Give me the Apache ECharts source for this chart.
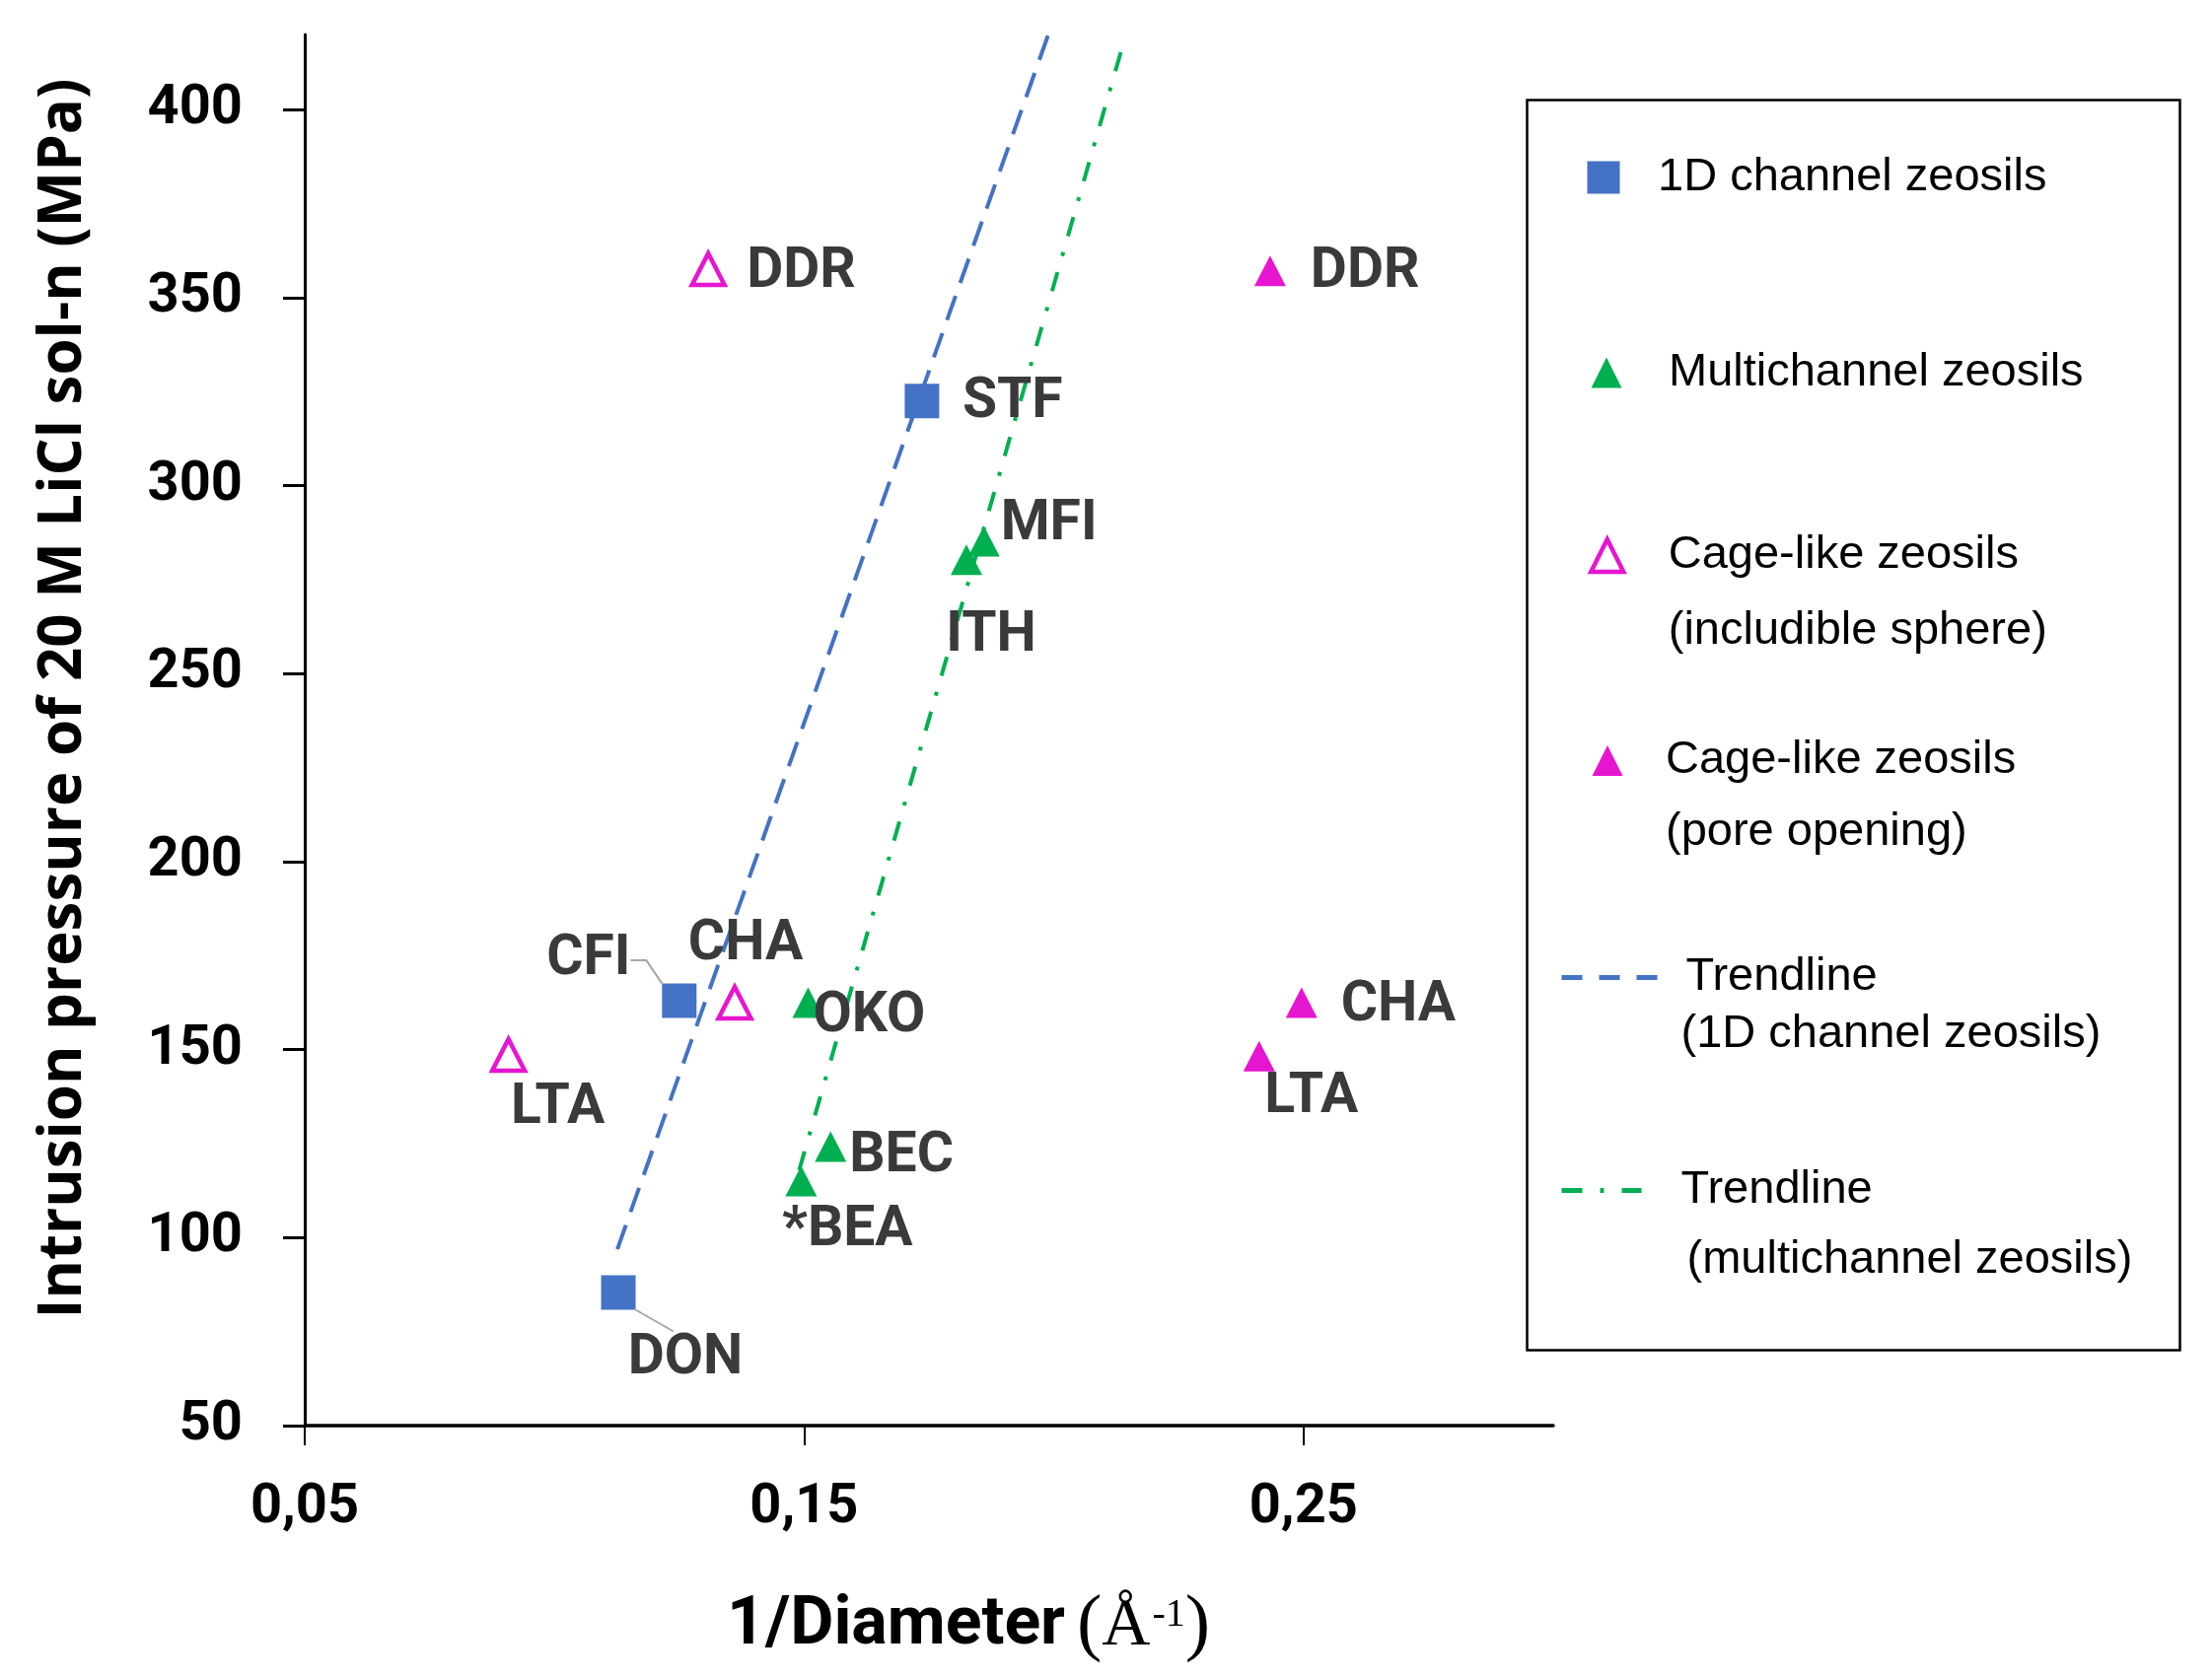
<!DOCTYPE html>
<html><head><meta charset="utf-8">
<script src="https://cdn.jsdelivr.net/npm/echarts@6/dist/echarts.min.js"></script>
<style>html,body{margin:0;padding:0;background:#fff}#c{width:2243px;height:1702px}</style>
</head><body><div id="c"></div>
<script>
// ---- data ----
const oneDNames = ['DON', 'CFI', 'STF'];
const oneDX = [0.1128, 0.1250, 0.1736];
const oneDY = [85.4, 163.0, 322.5];

const multiNames = ['*BEA', 'BEC', 'OKO', 'ITH', 'MFI'];
const multiX = [0.1494, 0.1553, 0.1508, 0.1825, 0.1860];
const multiY = [115.0, 124.2, 162.5, 280.3, 285.2];

const sphereNames = ['LTA', 'CHA', 'DDR'];
const sphereX = [0.0908, 0.1361, 0.1308];
const sphereY = [148.6, 162.5, 357.6];

const poreNames = ['LTA', 'CHA', 'DDR'];
const poreX = [0.2411, 0.2496, 0.2433];
const poreY = [148.3, 162.5, 357.1];

const trend1DX = [0.1126, 0.1989];
const trend1DY = [96.9, 420];
const trendMultiX = [0.1490, 0.2140];
const trendMultiY = [117.9, 418];

const xTicks = [0.05, 0.15, 0.25];
const yTicks = [50, 100, 150, 200, 250, 300, 350, 400];

const seriesNames = ['1D channel zeosils', 'Multichannel zeosils', 'Cage-like zeosils (includible sphere)',
  'Cage-like zeosils (pore opening)', 'Trendline (1D channel zeosils)', 'Trendline (multichannel zeosils)'];

// ---- label placement (style only): [align, dx, dy, leaderLength2, leftPad] ----
const placeOneD = [['center', 68, 68, 0, 24], ['center', -92, -41, 16], ['left', 41, 2]];
const placeMulti = [['center', 47, 51], ['left', 19, 11], ['left', 5, 15], ['center', 25, 78], ['left', 17, -16]];
const placeSphere = [['center', 50, 55], ['center', 11, -58], ['left', 39, 4]];
const placePore = [['center', 53, 43], ['left', 40, 4], ['left', 41, 2]];

const BLUE = '#4472C4', GREEN = '#00B050', MAG = '#E616D0', LABEL = '#3A3A3A';
const labelFont = { fontFamily: 'Roboto', fontWeight: 'bold', fontSize: 57, color: LABEL };

function pts(xs, ys, names, place) {
  return xs.map((x, i) => {
    const pl = place[i];
    const pad = pl[4] || 0;
    const d = {
      value: [x, ys[i]], name: names[i],
      label: { align: pl[0], offset: [pl[1] - pad / 2, pl[2]] }
    };
    if (pad) { d.label.padding = [0, 0, 0, pad]; d.label.backgroundColor = 'rgba(255,255,255,0)'; }
    if (pl[3] != null) d.labelLine = { show: true, length2: pl[3] };
    return d;
  });
}
function line(xs, ys) { return xs.map((x, i) => [x, ys[i]]); }

const scatterBase = {
  type: 'scatter',
  label: Object.assign({ show: true, position: 'inside', verticalAlign: 'middle', formatter: p => p.name }, labelFont),
  labelLine: { show: false, lineStyle: { color: '#A6A6A6', width: 2 } },
  emphasis: { disabled: true },
  z: 3
};

const legendText = { fontFamily: "'Liberation Sans', Arial, sans-serif", fontSize: 47, color: '#000' };
function rich(lh, pad1, pad2) {
  return {
    p: Object.assign({ lineHeight: lh }, legendText),
    a: Object.assign({ lineHeight: lh, padding: [0, 0, 0, pad1] }, legendText),
    b: Object.assign({ lineHeight: lh, padding: [0, 0, 0, pad2] }, legendText)
  };
}
const legendBase = { orient: 'vertical', padding: 0, selectedMode: false, symbolKeepAspect: true };
const SQUARE = 'path://M0,0L10,0L10,10L0,10Z';
const TRI = 'path://M5,0L10,10L0,10Z';

const chart = echarts.init(document.getElementById('c'), null, { renderer: 'canvas' });
chart.setOption({
  animation: false,
  backgroundColor: '#fff',
  grid: { left: 309, right: 668, top: 35, bottom: 256, containLabel: false },
  xAxis: {
    type: 'value', min: 0.05, max: 0.30,
    name: '{a|1/Diameter}{q|(}{s|Å}{u|-1}{p|)}',
    nameLocation: 'middle', nameGap: 166,
    nameTextStyle: {
      padding: [0, 0, 0, 80],
      rich: {
        a: { fontFamily: 'Roboto', fontWeight: 'bold', fontSize: 68, color: '#000' },
        q: { fontFamily: "'Liberation Serif', serif", fontSize: 76, color: '#000', padding: [0, 0, 0, 12] },
        p: { fontFamily: "'Liberation Serif', serif", fontSize: 76, color: '#000' },
        s: { fontFamily: "'Liberation Serif', serif", fontSize: 68, color: '#000' },
        u: { fontFamily: "'Liberation Serif', serif", fontSize: 40, color: '#000', verticalAlign: 'top', padding: [6, 0, 0, 2] }
      }
    },
    axisLine: { lineStyle: { color: '#000', width: 3.5 } },
    axisTick: { show: true, length: 20, lineStyle: { color: '#000', width: 2 }, customValues: xTicks },
    axisLabel: {
      customValues: xTicks, margin: 56,
      fontFamily: 'Roboto', fontWeight: 'bold', fontSize: 56, lineHeight: 56, color: '#000',
      formatter: v => v.toFixed(2).replace('.', ',')
    },
    splitLine: { show: false }
  },
  yAxis: {
    type: 'value', min: 50, max: 420,
    name: 'Intrusion pressure of 20 M LiCl sol-n (MPa)',
    nameLocation: 'middle', nameRotate: 90, nameGap: 214,
    nameTextStyle: { fontFamily: "'Open Sans', sans-serif", fontWeight: 'bold', fontSize: 60, lineHeight: 60, color: '#000', padding: [0, 0, 0, 64] },
    axisLine: { show: true, lineStyle: { color: '#000', width: 3 } },
    axisTick: { show: true, length: 22, lineStyle: { color: '#000', width: 3 }, customValues: yTicks },
    axisLabel: { customValues: yTicks, margin: 63, fontFamily: 'Roboto', fontWeight: 'bold', fontSize: 56, color: '#000' },
    splitLine: { show: false }
  },
  legend: [
    Object.assign({}, legendBase, {
      left: 1609.5, top: 155, itemWidth: 100, itemHeight: 33,
      data: [{ name: seriesNames[0], icon: SQUARE }],
      itemStyle: { opacity: 1 },
      textStyle: Object.assign({ lineHeight: 50 }, legendText)
    }),
    Object.assign({}, legendBase, {
      left: 1613.5, top: 353, itemWidth: 116, itemHeight: 31,
      data: [{ name: seriesNames[1], icon: TRI }],
      itemStyle: { opacity: 1 },
      textStyle: Object.assign({ lineHeight: 50 }, legendText)
    }),
    Object.assign({}, legendBase, {
      left: 1611, top: 463, itemWidth: 114, itemHeight: 33,
      data: [{ name: seriesNames[2], icon: TRI }],
      itemStyle: { opacity: 1, borderWidth: 4.5, borderColor: MAG, color: '#fff' },
      formatter: () => '{p| }\n{a|Cage-like zeosils}\n{b|(includible sphere)}',
      textStyle: Object.assign({ rich: rich(77, 0, 0) }, legendText)
    }),
    Object.assign({}, legendBase, {
      left: 1614.5, top: 675, itemWidth: 108, itemHeight: 31,
      data: [{ name: seriesNames[3], icon: TRI }],
      itemStyle: { opacity: 1 },
      formatter: () => '{p| }\n{a|Cage-like zeosils}\n{b|(pore opening)}',
      textStyle: Object.assign({ rich: rich(73, 0, 0) }, legendText)
    }),
    Object.assign({}, legendBase, {
      left: 1581, top: 910, itemWidth: 98, itemHeight: 10,
      data: [{ name: seriesNames[4] }],
      itemStyle: { opacity: 0 },
      lineStyle: { color: BLUE, width: 5, type: [21, 17] },
      formatter: () => '{p| }\n{a|Trendline}\n{b|(1D channel zeosils)}',
      textStyle: Object.assign({ rich: rich(58, 23, 18) }, legendText)
    }),
    Object.assign({}, legendBase, {
      left: 1581, top: 1113, itemWidth: 81, itemHeight: 10,
      data: [{ name: seriesNames[5] }],
      itemStyle: { opacity: 0 },
      lineStyle: { color: GREEN, width: 5, type: [21, 18, 4, 18] },
      formatter: () => '{p| }\n{a|Trendline}\n{b|(multichannel zeosils)}',
      textStyle: Object.assign({ rich: rich(71, 35, 41) }, legendText)
    })
  ],
  graphic: [{
    type: 'rect', left: 1546, top: 99, silent: true,
    shape: { width: 662, height: 1268 },
    style: { fill: 'none', stroke: '#000', lineWidth: 2.5 }
  }],
  series: [
    {
      name: seriesNames[4], type: 'line', data: line(trend1DX, trend1DY), symbol: 'none', silent: true,
      lineStyle: { color: BLUE, width: 4, type: [26, 14] }, itemStyle: { color: BLUE }, z: 2
    },
    {
      name: seriesNames[5], type: 'line', data: line(trendMultiX, trendMultiY), symbol: 'none', silent: true,
      lineStyle: { color: GREEN, width: 4, type: [20, 17, 4, 17] }, itemStyle: { color: GREEN }, z: 2
    },
    Object.assign({}, scatterBase, {
      name: seriesNames[0], symbol: 'rect', symbolSize: 35,
      itemStyle: { color: BLUE, opacity: 1 }, data: pts(oneDX, oneDY, oneDNames, placeOneD)
    }),
    Object.assign({}, scatterBase, {
      name: seriesNames[1], symbol: 'triangle', symbolSize: [32, 31],
      itemStyle: { color: GREEN, opacity: 1 }, data: pts(multiX, multiY, multiNames, placeMulti)
    }),
    Object.assign({}, scatterBase, {
      name: seriesNames[2], symbol: 'triangle', symbolSize: [33, 32],
      itemStyle: { color: '#fff', borderColor: MAG, borderWidth: 4.5, opacity: 1 }, data: pts(sphereX, sphereY, sphereNames, placeSphere)
    }),
    Object.assign({}, scatterBase, {
      name: seriesNames[3], symbol: 'triangle', symbolSize: [32, 31],
      itemStyle: { color: MAG, opacity: 1 }, data: pts(poreX, poreY, poreNames, placePore)
    })
  ]
});
</script>
</body></html>
